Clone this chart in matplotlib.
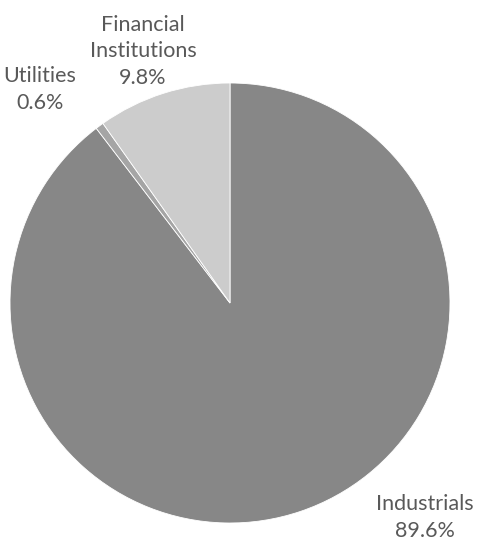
import matplotlib
matplotlib.use("Agg")
import matplotlib.pyplot as plt

# sector shares, clockwise from 12 o'clock
sectors = ["Industrials", "Utilities", "Financial\nInstitutions"]
shares = [89.6, 0.6, 9.8]
colors = ["#878787", "#a5a5a5", "#cccccc"]

# label anchor points in pie units (radius = 1)
label_pos = [(0.886, -0.975), (-0.864, 0.97), (-0.395, 1.145)]

plt.rcParams["font.family"] = ["Lato", "DejaVu Sans"]

fig = plt.figure(figsize=(4.83, 5.42), dpi=100)
ax = fig.add_axes([10 / 483, 19 / 542, 440 / 483, 440 / 542])

ax.pie(shares, colors=colors, startangle=90, counterclock=False,
       wedgeprops=dict(edgecolor="white", linewidth=0.6))
ax.set_xlim(-1, 1)
ax.set_ylim(-1, 1)
ax.set_aspect("equal")
ax.axis("off")

for name, val, (x, y) in zip(sectors, shares, label_pos):
    ax.text(x, y, "%s\n%.1f%%" % (name, val), ha="center", va="center",
            fontsize=15.5, color="#595959", linespacing=1.4, clip_on=False)

fig.savefig("out.png", dpi=100)
